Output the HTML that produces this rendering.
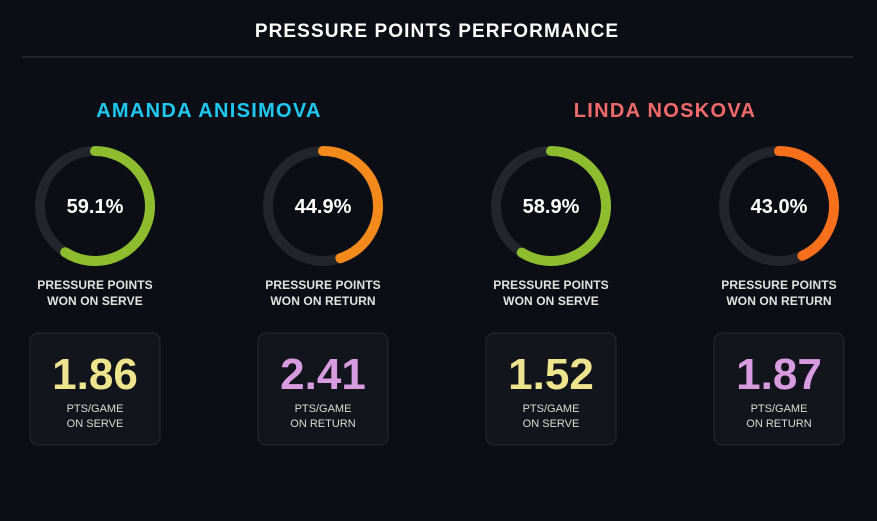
<!DOCTYPE html>
<html><head><meta charset="utf-8"><style>
html,body{margin:0;padding:0;background:#0b0e14;width:877px;height:521px;overflow:hidden;font-family:"Liberation Sans","DejaVu Sans",sans-serif;}
svg{display:block}
</style></head><body>
<svg id="chart" width="877" height="521" viewBox="0 0 877 521" xmlns="http://www.w3.org/2000/svg">
<rect width="877" height="521" fill="#0b0e14"/>
<text x="437" y="37" text-anchor="middle" fill="#ffffff" font-size="19" font-weight="bold" letter-spacing="1.1">PRESSURE POINTS PERFORMANCE</text>
<line x1="22" y1="57" x2="853" y2="57" stroke="#2a2e36" stroke-width="1.5"/>
<text x="209" y="117" text-anchor="middle" fill="#1ec8f0" font-size="20" font-weight="bold" letter-spacing="1.3">AMANDA ANISIMOVA</text>
<text x="665" y="117" text-anchor="middle" fill="#f26b6b" font-size="20" font-weight="bold" letter-spacing="1.3">LINDA NOSKOVA</text>
<g id="marks"></g>
</svg>
<script>
const percentValues = [59.1, 44.9, 58.9, 43.0];
const ringLabels1 = ["PRESSURE POINTS","PRESSURE POINTS","PRESSURE POINTS","PRESSURE POINTS"];
const ringLabels2 = ["WON ON SERVE","WON ON RETURN","WON ON SERVE","WON ON RETURN"];
const ptsValues = [1.86, 2.41, 1.52, 1.87];
const ptsLabels2 = ["ON SERVE","ON RETURN","ON SERVE","ON RETURN"];
const ringColors = ["#8dbd2e","#f48a1c","#8dbd2e","#f8701c"];
const ptsColors = ["#efe48e","#d99be0","#efe48e","#d99be0"];

const NS="http://www.w3.org/2000/svg";
const g=document.getElementById('marks');
function mk(tag,attrs,parent){const e=document.createElementNS(NS,tag);for(const k in attrs)e.setAttribute(k,attrs[k]);(parent||g).appendChild(e);return e;}
const cxs=[95,323,551,779];
const cy=206,R=55;
function angle(p){return p/100*2*Math.PI;}
percentValues.forEach((v,i)=>{
  const cx=cxs[i];
  const track=mk('circle',{cx:cx,cy:cy,r:R,fill:'none',stroke:'#22252c','stroke-width':10});
  
  
  const a=angle(v);
  const x1=cx,y1=cy-R,x2=cx+R*Math.sin(a),y2=cy-R*Math.cos(a);
  const large=v>50?1:0;
  const arc=mk('path',{d:`M${x1},${y1} A${R},${R} 0 ${large} 1 ${x2.toFixed(2)},${y2.toFixed(2)}`,fill:'none',stroke:ringColors[i],'stroke-width':10,'stroke-linecap':'round'});
  
  
  const t=mk('text',{x:cx,y:cy+7,'text-anchor':'middle',fill:'#fff','font-size':20,'font-weight':'bold'});
  t.textContent=v.toFixed(1)+'%';
  
  
  const l1=mk('text',{x:cx,y:289,'text-anchor':'middle',fill:'#e2e2e2','font-size':12,'font-weight':'bold','letter-spacing':0.1});
  l1.textContent=ringLabels1[i];
  
  
  const l2=mk('text',{x:cx,y:305,'text-anchor':'middle',fill:'#e2e2e2','font-size':12,'font-weight':'bold','letter-spacing':0.1});
  l2.textContent=ringLabels2[i];
  
  
  const box=mk('rect',{x:cx-65,y:333,width:130,height:112,rx:8,fill:'#12151c',stroke:'#262a33','stroke-width':1});
  
  
  const n=mk('text',{x:cx,y:389,'text-anchor':'middle',fill:ptsColors[i],'font-size':44,'font-weight':'bold'});
  n.textContent=ptsValues[i].toFixed(2);
  
  
  const s1=mk('text',{x:cx,y:412,'text-anchor':'middle',fill:'#dcdcdc','font-size':11});
  s1.textContent='PTS/GAME';
  
  
  const s2=mk('text',{x:cx,y:427,'text-anchor':'middle',fill:'#dcdcdc','font-size':11});
  s2.textContent=ptsLabels2[i];
  
  
});
</script>
</body></html>
